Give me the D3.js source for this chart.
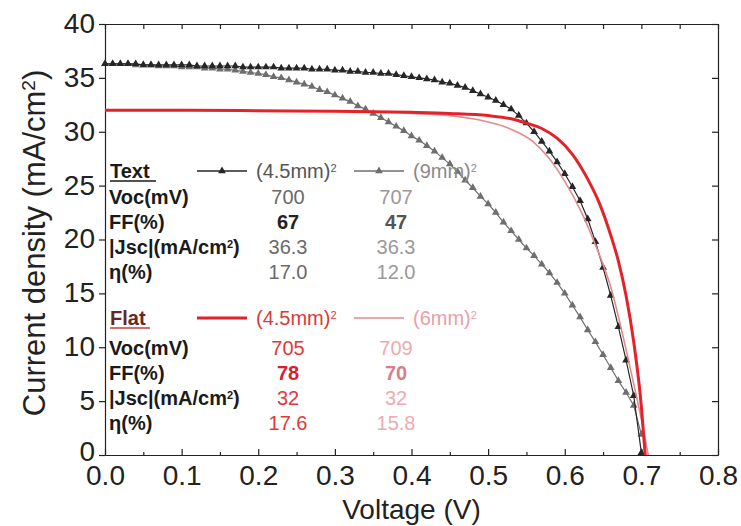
<!DOCTYPE html>
<html>
<head>
<meta charset="utf-8">
<script src="https://cdn.jsdelivr.net/npm/d3@7"></script>
<style>
  body { margin: 0; background: #fff; }
  svg { font-family: "Liberation Sans", Arial, sans-serif; }
  .tickLbl text { font-size: 28px; fill: #222; }
  .axis path, .axis line { stroke: #222; stroke-width: 1.2; }
  .tbl { font-size: 20px; }
</style>
</head>
<body>
<svg class="chart"></svg>
<script>
// measured voltages (V) for the textured cells
var volts = [0.00,0.01,0.02,0.03,0.04,0.05,0.06,0.07,0.08,0.09,
             0.10,0.11,0.12,0.13,0.14,0.15,0.16,0.17,0.18,0.19,
             0.20,0.21,0.22,0.23,0.24,0.25,0.26,0.27,0.28,0.29,
             0.30,0.31,0.32,0.33,0.34,0.35,0.36,0.37,0.38,0.39,
             0.40,0.41,0.42,0.43,0.44,0.45,0.46,0.47,0.48,0.49,
             0.50,0.51,0.52,0.53,0.54,0.55,0.56,0.57,0.58,0.59,
             0.60,0.61,0.62,0.63,0.64,0.65,0.66,0.67,0.68,0.69,0.70];

// Text (4.5mm)^2
var jText45 = [36.3,36.3,36.3,36.3,36.3,36.2,36.2,36.2,36.2,36.2,
               36.2,36.2,36.1,36.1,36.1,36.1,36.1,36.1,36.0,36.0,
               36.0,36.0,36.0,35.9,35.9,35.9,35.9,35.8,35.8,35.8,
               35.7,35.7,35.6,35.6,35.5,35.5,35.4,35.4,35.3,35.2,
               35.1,35.0,34.9,34.8,34.6,34.5,34.3,34.1,33.8,33.5,
               33.2,32.9,32.5,32.1,31.5,30.8,30.0,29.1,28.2,27.2,
               26.1,24.9,23.6,21.9,19.8,17.4,14.8,11.9,8.8,5.5,0.2];

// Text (9mm)^2
var jText9 = [36.3,36.3,36.3,36.3,36.2,36.2,36.2,36.1,36.1,36.1,
              36.0,36.0,36.0,35.9,35.9,35.8,35.8,35.7,35.6,35.5,
              35.4,35.3,35.1,35.0,34.8,34.6,34.4,34.2,33.9,33.7,
              33.4,33.1,32.8,32.4,32.1,31.7,31.3,30.9,30.5,30.1,
              29.6,29.2,28.7,28.2,27.6,27.0,26.3,25.5,24.8,24.0,
              23.3,22.5,21.6,20.8,20.0,19.2,18.5,17.7,16.9,16.0,
              15.0,13.9,12.8,11.6,10.5,9.3,8.1,6.9,5.8,4.6,1.9];

// Flat (4.5mm)^2
var flat45V = [0.00,0.10,0.20,0.30,0.40,0.45,0.50,0.53,0.55,0.57,0.59,0.61,0.63,0.645,0.66,0.67,0.68,0.69,0.70,0.705];
var flat45J = [32.0,32.0,31.95,31.9,31.8,31.7,31.5,31.2,30.8,30.3,29.4,27.9,25.6,23.4,20.4,18.0,14.8,10.5,4.5,0.0];

// Flat (6mm)^2
var flat6V = [0.00,0.10,0.20,0.30,0.35,0.40,0.45,0.48,0.50,0.52,0.54,0.56,0.58,0.60,0.62,0.64,0.66,0.68,0.69,0.70,0.709];
var flat6J = [32.0,32.0,31.95,31.9,31.85,31.7,31.5,31.2,30.9,30.5,29.9,29.0,27.5,25.4,22.8,19.5,15.6,9.8,6.6,3.3,0.0];

var rowLabels = ["Voc(mV)", "FF(%)", "|Jsc|(mA/cm", "η(%)"];
var textCol1 = ["700", "67", "36.3", "17.0"];
var textCol2 = ["707", "47", "36.3", "12.0"];
var flatCol1 = ["705", "78", "32", "17.6"];
var flatCol2 = ["709", "70", "32", "15.8"];

var xTicks = [0.0,0.1,0.2,0.3,0.4,0.5,0.6,0.7,0.8];
var xMinor = [0.05,0.15,0.25,0.35,0.45,0.55,0.65,0.75];
var yTicks = [0,5,10,15,20,25,30,35,40];

var W = 741, H = 526;
var margin = {left: 105, right: 23, top: 24, bottom: 71};
var svg = d3.select(".chart").attr("width", W).attr("height", H);

var x = d3.scaleLinear().domain([0, 0.8]).range([margin.left, W - margin.right]);
var y = d3.scaleLinear().domain([0, 40]).range([H - margin.bottom, margin.top]);

// axes
svg.append("g").attr("class", "axis tickLbl")
   .attr("transform", "translate(0," + y(0) + ")")
   .call(d3.axisBottom(x).tickValues(xTicks).tickFormat(d3.format(".1f"))
           .tickSizeInner(-6).tickSizeOuter(0).tickPadding(5));
svg.append("g").attr("class", "axis")
   .attr("transform", "translate(0," + y(0) + ")")
   .call(d3.axisBottom(x).tickValues(xMinor).tickFormat("").tickSizeInner(-3).tickSizeOuter(0));
svg.append("g").attr("class", "axis")
   .attr("transform", "translate(0," + y(40) + ")")
   .call(d3.axisTop(x).tickValues(xTicks.concat(xMinor)).tickFormat("").tickSizeInner(-5).tickSizeOuter(0));
svg.append("g").attr("class", "axis tickLbl")
   .attr("transform", "translate(" + x(0) + ",0)")
   .call(d3.axisLeft(y).tickValues(yTicks).tickSizeInner(6).tickSizeOuter(0).tickPadding(4));
svg.append("g").attr("class", "axis")
   .attr("transform", "translate(" + x(0.8) + ",0)")
   .call(d3.axisLeft(y).tickValues(yTicks).tickFormat("").tickSizeInner(6).tickSizeOuter(0));
svg.selectAll(".tickLbl .tick text").attr("dy", null);
svg.selectAll(".tickLbl .tick text").each(function(d) {
  var t = d3.select(this);
  if (+t.attr("y") > 0) t.attr("dy", "0.9em");
  else t.attr("dy", d === 0 ? "0.18em" : "0.3em");
});

// axis titles
svg.append("text").attr("x", (x(0) + x(0.8)) / 2).attr("y", 519)
   .attr("text-anchor", "middle").style("font-size", "28px").style("fill", "#222")
   .text("Voltage (V)");
var yl = svg.append("text")
   .attr("transform", "translate(45,243) rotate(-90)")
   .attr("text-anchor", "middle").style("font-size", "31px").style("fill", "#222");
yl.append("tspan").text("Current density (mA/cm");
yl.append("tspan").attr("baseline-shift", "super").style("font-size", "19px").text("2");
yl.append("tspan").text(")");

// curves
var tri = d3.symbol().type(d3.symbolTriangle).size(26);
function markerSeries(js, color) {
  var pts = volts.map(function(v, i) { return [v, js[i]]; });
  svg.append("path").datum(pts)
     .attr("d", d3.line().x(function(d) { return x(d[0]); }).y(function(d) { return y(d[1]); }))
     .attr("fill", "none").attr("stroke", color).attr("stroke-width", 1.2);
  svg.append("g").selectAll("path").data(pts).join("path")
     .attr("d", tri)
     .attr("transform", function(d) { return "translate(" + x(d[0]) + "," + y(d[1]) + ")"; })
     .attr("fill", color);
}
markerSeries(jText9, "#6e6e6e");
markerSeries(jText45, "#262626");

function lineSeries(vs, js, color, w) {
  svg.append("path").datum(vs.map(function(v, i) { return [v, js[i]]; }))
     .attr("d", d3.line().curve(d3.curveMonotoneX)
                  .x(function(d) { return x(d[0]); }).y(function(d) { return y(d[1]); }))
     .attr("fill", "none").attr("stroke", color).attr("stroke-width", w);
}
lineSeries(flat6V, flat6J, "#e28a90", 1.6);
lineSeries(flat45V, flat45J, "#e3232b", 3);

// table legend
function table(top, rowTop, title, titleColor, ulColor, keys, cols) {
  var g = svg.append("g").attr("class", "tbl");
  g.append("text").attr("x", 110).attr("y", top).style("font-weight", "bold")
   .style("fill", titleColor).text(title);
  g.append("line").attr("x1", 110).attr("x2", 110 + (title === "Text" ? 46 : 40))
   .attr("y1", top + 3).attr("y2", top + 3).attr("stroke", ulColor).attr("stroke-width", 1.5);
  keys.forEach(function(k, i) {
    var x0 = i === 0 ? 197 : 354;
    var ly = top - 7;
    g.append("line").attr("x1", x0).attr("x2", x0 + 50).attr("y1", ly).attr("y2", ly)
     .attr("stroke", k.color).attr("stroke-width", k.w);
    if (k.marker) {
      g.append("path").attr("d", tri).attr("fill", k.color)
       .attr("transform", "translate(" + (x0 + 25) + "," + ly + ")");
    }
    var t = g.append("text").attr("x", x0 + 59).attr("y", top).style("fill", k.textColor);
    t.append("tspan").text(k.label);
    t.append("tspan").attr("baseline-shift", "super").style("font-size", "11px").text("2");
  });
  rowLabels.forEach(function(r, i) {
    var ry = rowTop + i * 25;
    var t = g.append("text").attr("x", 109).attr("y", ry).style("font-weight", "bold").style("fill", "#1a1a1a");
    t.append("tspan").text(r);
    if (i === 2) {
      t.append("tspan").attr("baseline-shift", "super").style("font-size", "11px").text("2");
      t.append("tspan").text(")");
    }
    cols.forEach(function(c, j) {
      g.append("text").attr("x", j === 0 ? 288 : 396).attr("y", ry)
       .attr("text-anchor", "middle")
       .style("font-weight", i === 1 ? "bold" : "normal")
       .style("fill", i === 1 ? c.bold : c.color).text(c.values[i]);
    });
  });
}
table(178, 204, "Text", "#1a1a1a", "#1a1a1a",
  [{label: "(4.5mm)", color: "#262626", textColor: "#555", w: 1.5, marker: true},
   {label: "(9mm)", color: "#6e6e6e", textColor: "#8a8a8a", w: 1.5, marker: true}],
  [{values: textCol1, color: "#6a6a6a", bold: "#222"},
   {values: textCol2, color: "#999", bold: "#555"}]);
table(325, 355, "Flat", "#6a2626", "#c83a3a",
  [{label: "(4.5mm)", color: "#e3232b", textColor: "#d83a3a", w: 3, marker: false},
   {label: "(6mm)", color: "#e28a90", textColor: "#eaa0a4", w: 1.6, marker: false}],
  [{values: flatCol1, color: "#e2383c", bold: "#d8202a"},
   {values: flatCol2, color: "#eeaab0", bold: "#d77f86"}]);
</script>
</body>
</html>
